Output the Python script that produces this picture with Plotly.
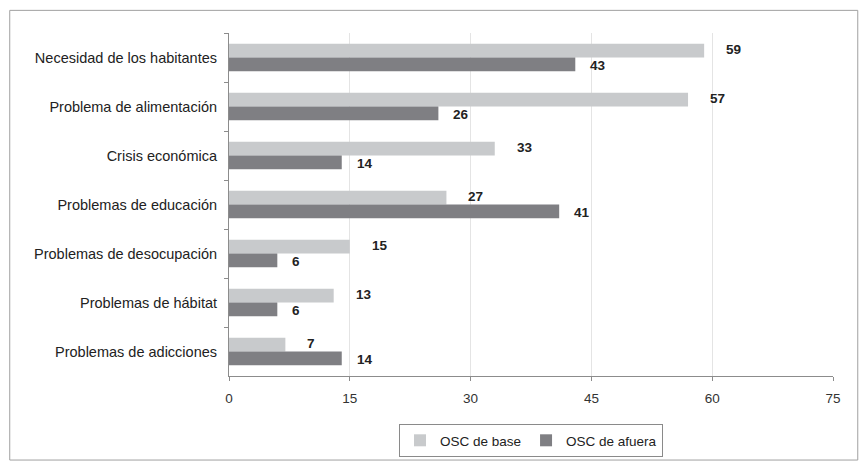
import plotly.graph_objects as go

categories = [
    "Necesidad de los habitantes",
    "Problema de alimentación",
    "Crisis económica",
    "Problemas de educación",
    "Problemas de desocupación",
    "Problemas de hábitat",
    "Problemas de adicciones",
]
osc_base = [59, 57, 33, 27, 15, 13, 7]
osc_afuera = [43, 26, 14, 41, 6, 6, 14]
x_ticks = [0, 15, 30, 45, 60, 75]

FONT = "Liberation Sans, Arial, sans-serif"
LIGHT = "#c8cacc"
DARK = "#7f7f83"

fig = go.Figure()
fig.add_trace(go.Bar(
    y=categories, x=osc_base, orientation="h", name="OSC de base",
    marker=dict(color=LIGHT, line=dict(width=0)),
))
fig.add_trace(go.Bar(
    y=categories, x=osc_afuera, orientation="h", name="OSC de afuera",
    marker=dict(color=DARK, line=dict(width=0)),
))

# value labels to the right of each bar
annotations = []
for vals, off, shift in ((osc_base, -0.17, 20), (osc_afuera, 0.17, 13)):
    for i, v in enumerate(vals):
        annotations.append(dict(
            x=v, y=i + off, xref="x", yref="y", text=f"<b>{v}</b>",
            showarrow=False, xanchor="left", yanchor="middle", xshift=shift,
            font=dict(family=FONT, size=13.5, color="#222222"),
        ))

# outer frame around the whole chart
frame = dict(type="rect", xref="paper", yref="paper",
             x0=-0.363, x1=1.041, y0=-0.245, y1=1.066,
             line=dict(color="#a0a0a0", width=1), fillcolor="rgba(0,0,0,0)")

fig.update_layout(
    width=859, height=469,
    margin=dict(l=229, r=26, t=33, b=87),
    paper_bgcolor="white", plot_bgcolor="white",
    barmode="group", bargap=0.44, bargroupgap=0.0,
    font=dict(family=FONT, size=14, color="#222222"),
    showlegend=True,
    legend=dict(
        orientation="h", x=0.5, xanchor="center", y=-0.14, yanchor="top",
        bordercolor="#8a8a8a", borderwidth=1, bgcolor="white",
        font=dict(family=FONT, size=13.5, color="#222222"),
        itemwidth=30, tracegroupgap=0,
    ),
    annotations=annotations,
    shapes=[frame],
)
fig.update_xaxes(
    range=[0, 75], tickvals=x_ticks, ticktext=[str(t) for t in x_ticks],
    showgrid=True, gridcolor="#e4e4e4", gridwidth=1,
    showline=True, linecolor="#8c8c8c", linewidth=1,
    ticks="outside", ticklen=4, tickcolor="#8c8c8c", ticklabelstandoff=6,
    tickfont=dict(family=FONT, size=13.5, color="#333333"),
    zeroline=False, automargin=False,
)
fig.update_yaxes(
    autorange="reversed", showgrid=False,
    showline=True, linecolor="#8c8c8c", linewidth=1,
    ticks="outside", ticklen=4, tickcolor="#8c8c8c", tickson="boundaries",
    tickfont=dict(family=FONT, size=14.5, color="#222222"),
    ticksuffix="  ", automargin=False,
)

fig.write_html("out.html")
